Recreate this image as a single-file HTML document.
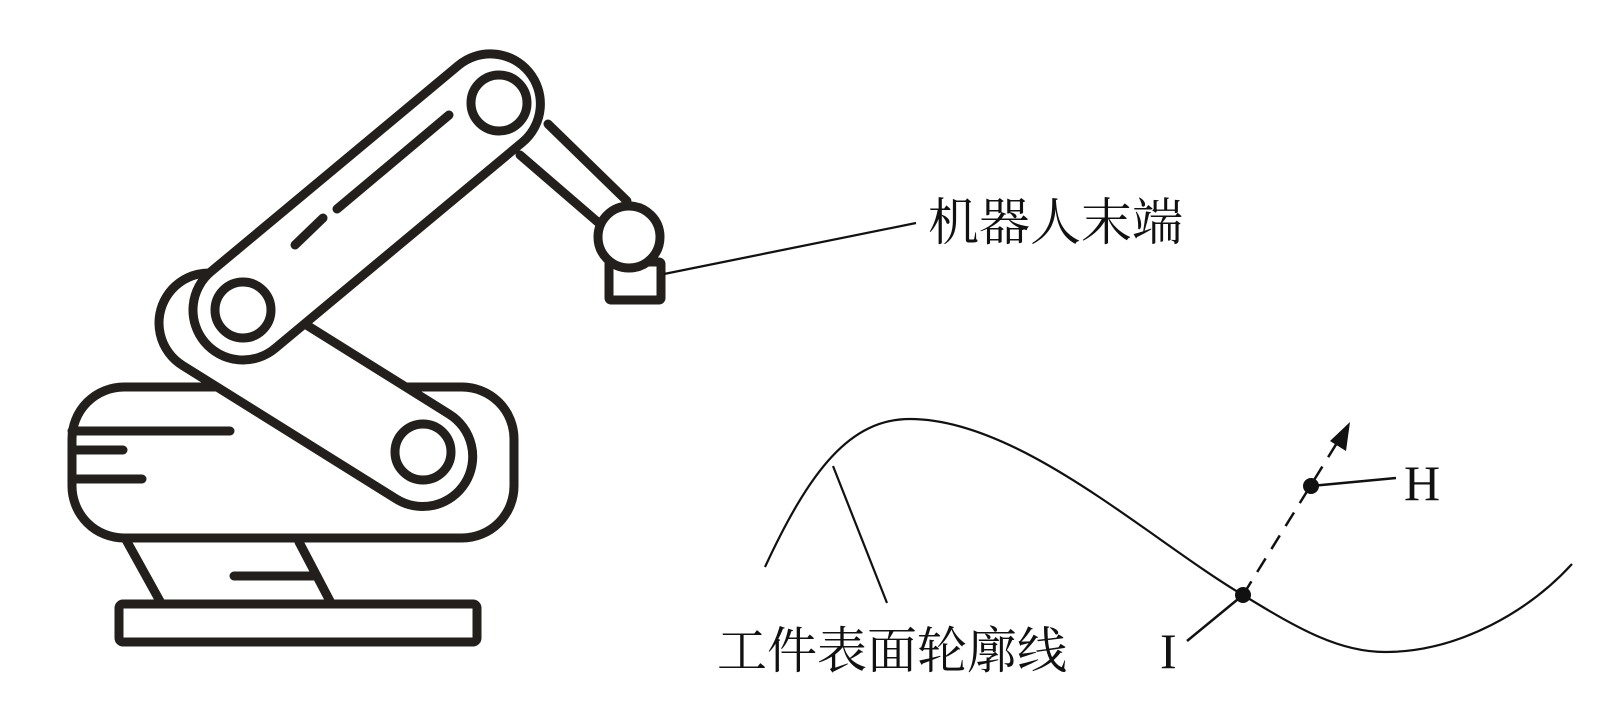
<!DOCTYPE html>
<html><head><meta charset="utf-8"><style>
html,body{margin:0;padding:0;background:#fff;}
svg{display:block;}
</style></head><body>
<svg width="1622" height="706" viewBox="0 0 1622 706" xmlns="http://www.w3.org/2000/svg">
<g stroke="#231f1c" stroke-width="9" fill="#fff" stroke-linecap="round" stroke-linejoin="round">
  <!-- pedestal legs -->
  <line x1="125" y1="538" x2="161" y2="603"/>
  <line x1="299" y1="542" x2="331" y2="603"/>
  <line x1="234" y1="576" x2="313" y2="576"/>
  <!-- base plate -->
  <rect x="119" y="604" width="358" height="38" rx="4"/>
  <!-- base body -->
  <rect x="72" y="387" width="442" height="151" rx="52"/>
  <line x1="72" y1="431" x2="230" y2="431"/>
  <line x1="72" y1="450" x2="123" y2="450"/>
  <line x1="72" y1="479" x2="142" y2="479"/>
  <!-- lower arm -->
  <g transform="translate(209,323) rotate(32)">
    <rect x="-50" y="-50" width="352" height="100" rx="50"/>
  </g>
  <circle cx="423" cy="452" r="28"/>
  <!-- forearm link -->
  <line x1="548" y1="124" x2="627" y2="201"/>
  <line x1="520" y1="155" x2="600" y2="224"/>
  <!-- upper arm -->
  <g transform="translate(243,310) rotate(-39.8)">
    <rect x="-50" y="-50" width="422" height="100" rx="50"/>
  </g>
  <circle cx="243" cy="310" r="28"/>
  <circle cx="499" cy="103" r="28"/>
  <line x1="449" y1="115" x2="337" y2="209"/>
  <line x1="323" y1="218" x2="295" y2="245"/>
  <!-- gripper -->
  <rect x="609" y="262" width="52" height="38" rx="2"/>
  <circle cx="629" cy="237" r="31"/>
</g>
<g stroke="#111" fill="none">
  <line x1="664" y1="274" x2="916" y2="223" stroke-width="2.2"/>
  <path d="M765,567 C810,470 850,419 910,419 C1020,419 1150,540 1243,595 C1300,630 1340,652 1385,652 C1460,652 1530,610 1572,564" stroke-width="2.2"/>
  <line x1="833" y1="466" x2="887" y2="603" stroke-width="2.2"/>
  <line x1="1187" y1="641" x2="1243" y2="595" stroke-width="2.5"/>
  <line x1="1243" y1="595" x2="1340" y2="438" stroke-width="2.5" stroke-dasharray="16,11"/>
  <line x1="1311" y1="486" x2="1396" y2="478" stroke-width="2.5"/>
</g>
<polygon points="1350,422 1346,451 1330,441" fill="#111"/>
<circle cx="1243" cy="595" r="8" fill="#111"/>
<circle cx="1311" cy="486" r="8" fill="#111"/>
<g font-family="'Liberation Serif','Noto Serif CJK SC',serif" fill="#111">
  <text x="928" y="240" font-size="51">机器人末端</text>
  <text x="717" y="668" font-size="50">工件表面轮廓线</text>
  <text x="1404" y="500" font-size="50">H</text>
  <text x="1160" y="668" font-size="50">I</text>
</g>
</svg>
</body></html>
